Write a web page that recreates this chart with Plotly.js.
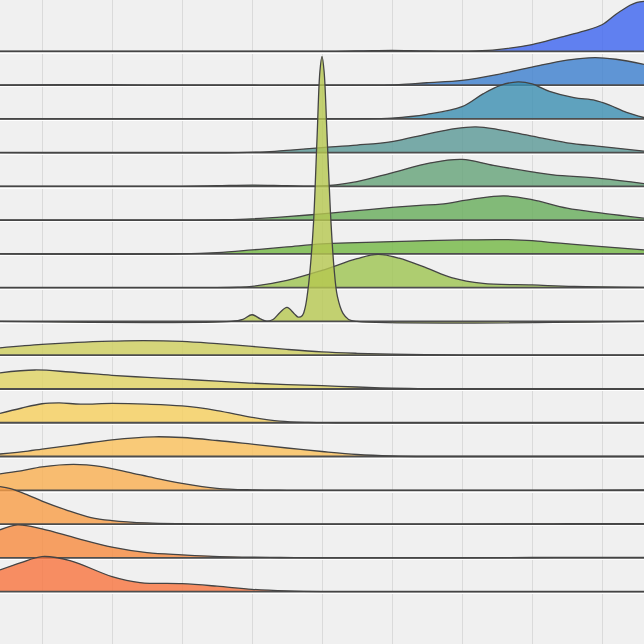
<!DOCTYPE html>
<html>
<head>
<meta charset="utf-8">
<script src="https://cdn.plot.ly/plotly-3.0.1.min.js"></script>
<style>html,body{margin:0;padding:0;background:#f0f0f0;}#chart{width:644px;height:644px;}</style>
</head>
<body>
<div id="chart"></div>
<script>
// Ridge rows, top (0) to bottom (16): x positions and density heights
const x0 = [-0.6, 4.2, 4.6, 5.0, 5.4, 5.8, 6.2, 6.5, 7.0, 7.4, 7.75, 8.0, 8.2, 8.4, 8.5, 8.6];
const h0 = [0, 0, 0.5, 0.9, 0.5, 0.1, 0.3, 1.6, 6.7, 14, 20.5, 26.5, 37, 46, 49, 50];
const x1 = [-0.6, -0.1, 0.45, 1.0, 1.5, 4.8, 5.1, 5.5, 6.0, 6.5, 7.0, 7.5, 7.9, 8.2, 8.6];
const h1 = [0, 0.1, 0.5, 0.3, 0, 0, 0.5, 2.3, 4.7, 10.5, 18, 25, 27.5, 25.8, 20.7];
const x2 = [-0.6, 4.5, 5.0, 5.5, 6.0, 6.3, 6.55, 6.8, 7.0, 7.25, 7.6, 7.9, 8.1, 8.35, 8.6];
const h2 = [0, 0, 0.8, 4.5, 12.2, 25, 33.5, 37, 35, 27.5, 21.2, 18.5, 14, 6.5, 1.3];
const x3 = [-0.6, 2.8, 3.2, 3.6, 4.0, 4.5, 5.0, 5.5, 5.9, 6.2, 6.5, 7.0, 7.5, 8.0, 8.6];
const h3 = [0, 0, 0.8, 2.8, 5, 7.5, 11, 18.5, 24, 25.7, 23.3, 16.4, 9.8, 6, 1.4];
const x4 = [-0.6, 2.0, 2.5, 3.0, 3.5, 3.9, 4.2, 4.5, 5.0, 5.55, 6.0, 6.45, 7.0, 7.3, 8.0, 8.6];
const h4 = [0, 0, 0.6, 1.3, 0.6, 0.3, 1.5, 4.7, 13.5, 23.5, 27, 21, 14.5, 11.5, 7.8, 2.8];
const x5 = [-0.6, 2.2, 2.6, 3.0, 3.5, 4.0, 4.5, 5.0, 5.4, 5.7, 6.15, 6.6, 7.0, 7.5, 8.0, 8.6];
const h5 = [0, 0, 0.4, 1.3, 3.5, 6.3, 9.5, 12.7, 14.8, 16, 21, 24.3, 20.5, 12, 7, 2];
const x6 = [-0.6, 2.0, 2.5, 3.0, 3.5, 4.0, 4.5, 5.0, 5.5, 6.0, 6.6, 7.0, 7.3, 7.6, 8.0, 8.6];
const h6 = [0, 0, 1.3, 4, 7, 10, 11.3, 12.3, 13.3, 14, 14.3, 13.3, 11.3, 9.5, 7.3, 4];
const x7 = [-0.6, 2.5, 2.8, 3.0, 3.5, 4.0, 4.5, 4.8, 5.1, 5.5, 5.85, 6.3, 7.0, 7.6, 8.6];
const h7 = [0, 0, 0.4, 1.3, 7.3, 17.3, 29, 33.3, 29.5, 19.5, 10, 4.2, 2.7, 1.3, 0.3];
const x8 = [-0.6, 2.7, 2.87, 3.0, 3.12, 3.21, 3.3, 3.4, 3.5, 3.6, 3.66, 3.72, 3.76, 3.8, 3.84, 3.88, 3.93, 3.97, 4.0, 4.03, 4.07, 4.12, 4.17, 4.22, 4.3, 4.38, 4.5, 8.6];
const h8 = [0, 0, 2, 6.7, 2.5, 0.3, 2, 9, 14, 8, 4.3, 6, 14, 32, 60, 100, 185, 250, 265, 250, 190, 110, 55, 25, 8, 2, 0, 0];
const x9 = [-0.6, 0.0, 0.5, 1.0, 1.45, 2.0, 2.5, 3.0, 3.5, 4.0, 4.5, 5.0, 5.8, 6.5, 8.6];
const h9 = [7.4, 10.8, 12.8, 14, 14.6, 13.8, 11.5, 8.8, 5.8, 3.3, 1.9, 1.0, 0.3, 0, 0];
const x10 = [-0.6, -0.1, 0.4, 1.0, 1.5, 2.0, 2.5, 3.0, 3.5, 4.0, 4.5, 5.0, 5.5, 8.6];
const h10 = [16.2, 19, 17, 13.7, 11.6, 9.8, 7.8, 5.8, 4.4, 3.3, 2, 0.8, 0.2, 0];
const x11 = [-0.6, -0.3, 0.0, 0.25, 0.55, 1.0, 1.5, 2.0, 2.5, 3.0, 3.4, 3.8, 4.2, 8.6];
const h11 = [9.3, 14.5, 19, 19.8, 18.6, 19.3, 18.6, 16.8, 12.2, 5.4, 1.6, 0.3, 0, 0];
const x12 = [-0.6, -0.2, 0.0, 0.5, 1.0, 1.6, 2.0, 2.5, 3.0, 3.5, 4.0, 4.5, 5.0, 5.5, 8.6];
const h12 = [2.5, 5.5, 7.5, 12, 16.7, 19.7, 19, 16, 12.3, 8.5, 5, 2, 0.5, 0, 0];
const x13 = [-0.6, -0.3, 0.0, 0.45, 0.85, 1.3, 1.6, 2.0, 2.5, 3.0, 3.5, 7.5, 8.6];
const h13 = [16.5, 19.5, 23.5, 26, 23.7, 17, 12.5, 7, 2, 0.4, 0, 0, 0.3];
const x14 = [-0.6, -0.45, -0.2, 0.0, 0.35, 0.7, 1.0, 1.5, 2.0, 2.5, 6.0, 7.5, 8.6];
const h14 = [37.5, 35.5, 29, 23, 14, 6.5, 3.5, 1.1, 0.3, 0, 0, 0.3, 0.5];
const x15 = [-0.6, -0.35, 0.0, 0.5, 1.0, 1.5, 2.0, 2.7, 3.4, 4.0, 6.0, 7.0, 8.0, 8.6];
const h15 = [28, 33, 29, 19.5, 10.7, 5.2, 3, 1, 0.3, 0, 0, 0.3, 0.5, 0.5];
const x16 = [-0.6, -0.3, 0.0, 0.4, 1.0, 1.4, 2.0, 2.5, 3.0, 3.5, 4.0, 8.6];
const h16 = [21.7, 29, 35, 31, 15, 9, 7.9, 5.4, 2.3, 0.7, 0, 0];

const fillColors = [
  'rgb(60,100,240)', 'rgb(59,126,206)', 'rgb(59,142,177)', 'rgb(90,152,150)',
  'rgb(100,162,120)', 'rgb(102,172,90)', 'rgb(115,184,67)', 'rgb(157,196,80)',
  'rgb(182,200,80)', 'rgb(206,206,92)', 'rgb(224,211,97)', 'rgb(246,207,92)',
  'rgb(251,192,90)', 'rgb(250,175,80)', 'rgb(249,157,70)', 'rgb(247,139,62)',
  'rgb(249,116,62)'
];

const rowsX = [x0,x1,x2,x3,x4,x5,x6,x7,x8,x9,x10,x11,x12,x13,x14,x15,x16];
const rowsH = [h0,h1,h2,h3,h4,h5,h6,h7,h8,h9,h10,h11,h12,h13,h14,h15,h16];

const nRows = rowsX.length;
const scale = 1 / 33.77;
const xMin = -0.6, xMax = 8.6;
const traces = [];
const baselines = [];
for (let i = 0; i < nRows; i++) {
  const base = (nRows - 1) - i;
  baselines.push(base);
  traces.push({
    x: [xMin, xMax], y: [base, base], mode: 'lines',
    line: {color: 'rgb(78,78,78)', width: 1.8}, hoverinfo: 'skip', showlegend: false
  });
  const c = fillColors[i].replace('rgb(', 'rgba(').replace(')', ',0.8)');
  traces.push({
    x: rowsX[i], y: rowsH[i].map(h => base + h * scale), mode: 'lines',
    line: {shape: 'spline', color: 'rgb(68,68,68)', width: 1.3},
    fill: 'tonexty', fillcolor: c, hoverinfo: 'skip', showlegend: false
  });
}

const layout = {
  width: 644, height: 644,
  margin: {l: 0, r: 0, t: 0, b: 0},
  paper_bgcolor: '#f0f0f0', plot_bgcolor: '#f0f0f0',
  showlegend: false,
  xaxis: {range: [xMin, xMax], tick0: 0, dtick: 1, showgrid: true, gridcolor: '#dadada', gridwidth: 1,
          showticklabels: false, zeroline: false, showline: false, ticks: ''},
  yaxis: {range: [-1.552, 17.519], tickvals: baselines.map(b => b - 0.045), showgrid: true,
          gridcolor: '#ffffff', gridwidth: 1.5, showticklabels: false, zeroline: false, showline: false, ticks: ''}
};

Plotly.newPlot('chart', traces, layout, {displayModeBar: false, staticPlot: true});
</script>
</body>
</html>
